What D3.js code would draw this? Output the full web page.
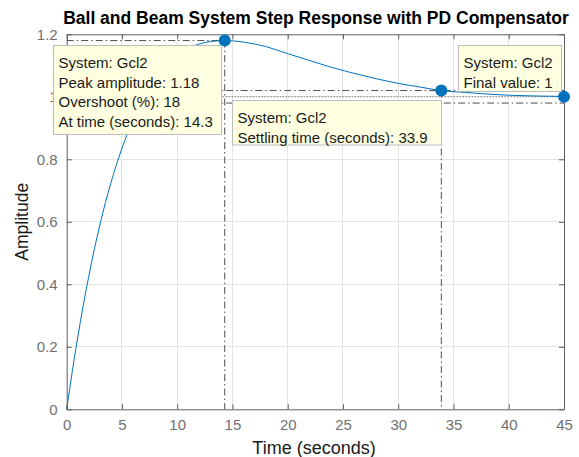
<!DOCTYPE html>
<html>
<head>
<meta charset="utf-8">
<script src="https://cdn.jsdelivr.net/npm/d3@7"></script>
<style>
  html, body { margin: 0; padding: 0; background: #fff; }
  svg { display: block; font-family: Arial, "Liberation Sans", Helvetica, sans-serif; }
</style>
</head>
<body>
<svg id="chart" width="579" height="457"></svg>
<script>
// Closed-loop step response samples (time in seconds, amplitude)
const timeS = [0, 0.5, 1, 1.5, 2, 3, 4, 5, 6, 7, 8, 9, 10, 11, 12, 13, 14.3, 15, 16, 18, 20, 22, 24, 26, 28, 30, 32, 33.9, 36, 38, 40, 42, 45];
const amplitude = [0, 0.12, 0.231, 0.333, 0.426, 0.59, 0.725, 0.835, 0.927, 1.0, 1.056, 1.1, 1.133, 1.155, 1.169, 1.177, 1.18, 1.179, 1.175, 1.161, 1.138, 1.116, 1.094, 1.075, 1.058, 1.043, 1.031, 1.02, 1.014, 1.009, 1.005, 1.003, 1.001];

// Response characteristics
const peakTime = 14.3, peakAmp = 1.18, overshootPct = 18;
const settleTime = 33.9, settleAmp = 1.02, settleBand = [1.02, 0.98];
const finalValue = 1, endTime = 45;

const xTicks = [0, 5, 10, 15, 20, 25, 30, 35, 40, 45];
const yTicks = [0, 0.2, 0.4, 0.6, 0.8, 1, 1.2];

const titleText = "Ball and Beam System Step Response with PD Compensator";
const xLabel = "Time (seconds)", yLabel = "Amplitude";
const sysName = "Gcl2";

const svg = d3.select("#chart");
const L = 66.7, R = 564, T = 34.3, B = 409.3;
const x = d3.scaleLinear().domain([0, 45]).range([L, R]);
const y = d3.scaleLinear().domain([0, 1.2]).range([B, T]);

const axisCol = "#5e5e5e", gridCol = "#e3e3e3", lineBlue = "#0072BD", charCol = "#4d4d4d";

// grid
const g = svg.append("g");
g.selectAll("line.gx").data(xTicks.slice(1, -1)).join("line")
  .attr("x1", d => x(d)).attr("x2", d => x(d)).attr("y1", T).attr("y2", B)
  .attr("stroke", gridCol).attr("stroke-width", 1).attr("shape-rendering", "crispEdges");
g.selectAll("line.gy").data(yTicks.slice(1, -1)).join("line")
  .attr("x1", L).attr("x2", R).attr("y1", d => y(d)).attr("y2", d => y(d))
  .attr("stroke", gridCol).attr("stroke-width", 1).attr("shape-rendering", "crispEdges");

// characteristic guide lines
const dashDot = "7,3,1.5,3";
function guide(x1, y1, x2, y2, dash) {
  svg.append("line").attr("x1", x(x1)).attr("y1", y(y1)).attr("x2", x(x2)).attr("y2", y(y2))
    .attr("stroke", charCol).attr("stroke-width", 1).attr("stroke-dasharray", dash);
}
guide(0, peakAmp, peakTime, peakAmp, dashDot);
guide(peakTime, peakAmp, peakTime, 0, dashDot);
guide(0, settleBand[0], endTime, settleBand[0], dashDot);
guide(0, settleBand[1], endTime, settleBand[1], dashDot);
guide(settleTime, settleAmp, settleTime, 0, dashDot);
guide(0, finalValue, endTime, finalValue, "1,2");

// response curve
const line = d3.line().x((d, i) => x(timeS[i])).y(d => y(d)).curve(d3.curveMonotoneX);
svg.append("path").datum(amplitude).attr("d", line)
  .attr("fill", "none").attr("stroke", lineBlue).attr("stroke-width", 1);

// axes (box with inward ticks on all sides)
const xb = d3.axisBottom(x).tickValues(xTicks).tickSizeInner(-5).tickSizeOuter(0).tickPadding(10).tickFormat(d3.format("d"));
const xt = d3.axisTop(x).tickValues(xTicks).tickSizeInner(-5).tickSizeOuter(0).tickFormat("");
const yl = d3.axisLeft(y).tickValues(yTicks).tickSizeInner(-5).tickSizeOuter(0).tickPadding(9).tickFormat(d => d3.format("")(+d.toFixed(1)));
const yr = d3.axisRight(y).tickValues(yTicks).tickSizeInner(-5).tickSizeOuter(0).tickFormat("");
function styleAxis(sel) {
  sel.select(".domain").attr("stroke", axisCol);
  sel.selectAll(".tick line").attr("stroke", axisCol);
  sel.selectAll(".tick text").attr("fill", "#707070").style("font-size", "15px").style("font-family", "Arial, 'Liberation Sans', sans-serif");
}
svg.append("g").attr("transform", `translate(0,${B})`).call(xb).call(styleAxis);
svg.append("g").attr("transform", `translate(0,${T})`).call(xt).call(styleAxis);
svg.append("g").attr("transform", `translate(${L},0)`).call(yl).call(styleAxis);
svg.append("g").attr("transform", `translate(${R},0)`).call(yr).call(styleAxis);

// markers
const marks = [[peakTime, peakAmp], [settleTime, settleAmp], [endTime, finalValue]];
svg.selectAll("circle.m").data(marks).join("circle")
  .attr("cx", d => x(d[0])).attr("cy", d => y(d[1])).attr("r", 6)
  .attr("fill", lineBlue);

// data tips
function tip(px, py, w, h, lines) {
  const gg = svg.append("g");
  gg.append("rect").attr("x", px).attr("y", py).attr("width", w).attr("height", h)
    .attr("fill", "#ffffe1").attr("stroke", "#bdbdbd").attr("stroke-width", 1);
  lines.forEach((t, i) => {
    gg.append("text").attr("x", px + 5).attr("y", py + 22.5 + i * 19.6)
      .attr("fill", "#1a1a1a").style("font-size", "15px").text(t);
  });
}
tip(53.5, 45.5, 168, 89, [
  `System: ${sysName}`,
  `Peak amplitude: ${peakAmp}`,
  `Overshoot (%): ${overshootPct}`,
  `At time (seconds): ${peakTime}`
]);
tip(232.5, 100.5, 209, 44.5, [
  `System: ${sysName}`,
  `Settling time (seconds): ${settleTime}`
]);
tip(458.5, 45.5, 103, 46, [
  `System: ${sysName}`,
  `Final value: ${finalValue}`
]);

// title and labels
svg.append("text").attr("x", 316).attr("y", 24).attr("text-anchor", "middle")
  .style("font-size", "17.5px").style("font-weight", "bold").attr("fill", "#000").text(titleText);
svg.append("text").attr("x", 314).attr("y", 454).attr("text-anchor", "middle")
  .style("font-size", "18px").attr("fill", "#1a1a1a").text(xLabel);
svg.append("text").attr("transform", `translate(28,${(T + B) / 2}) rotate(-90)`).attr("text-anchor", "middle")
  .style("font-size", "17.5px").attr("fill", "#1a1a1a").text(yLabel);
</script>
</body>
</html>
